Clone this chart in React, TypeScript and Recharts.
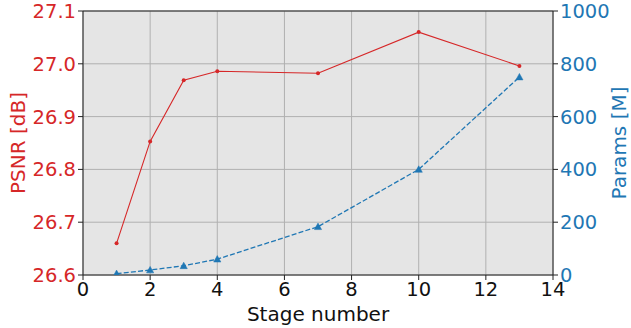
import React from "react";
import {
  ComposedChart,
  Line,
  XAxis,
  YAxis,
  CartesianGrid,
  ReferenceLine,
  Label,
} from "recharts";

const stages = [1, 2, 3, 4, 7, 10, 13];
const psnr = [26.66, 26.853, 26.969, 26.986, 26.982, 27.06, 26.996];
const params = [5, 19, 35, 60, 183, 400, 750];
const xTicks = [0, 2, 4, 6, 8, 10, 12, 14];
const psnrTicks = [26.6, 26.7, 26.8, 26.9, 27.0, 27.1];
const paramTicks = [0, 200, 400, 600, 800, 1000];

const data = stages.map((s, i) => ({ stage: s, psnr: psnr[i], params: params[i] }));

const RED = "#d62728";
const BLUE = "#1f77b4";
const FONT = "DejaVu Sans";

const Triangle = (props: any) => {
  const { cx, cy, index } = props;
  if (cx == null || cy == null) return <g key={`t${index}`} />;
  const s = 3.6;
  return (
    <path
      key={`t${index}`}
      d={`M${cx},${cy - s} L${cx + s},${cy + s * 0.8} L${cx - s},${cy + s * 0.8} Z`}
      fill={BLUE}
      stroke={BLUE}
      strokeWidth={0.5}
    />
  );
};

const RedDot = (props: any) => {
  const { cx, cy, index } = props;
  if (cx == null || cy == null) return <g key={`d${index}`} />;
  return <circle key={`d${index}`} cx={cx} cy={cy} r={2} fill={RED} />;
};

export default function App() {
  return (
    <div style={{ position: "absolute", left: 0, top: 0, width: 631, height: 328, background: "#fff" }}>
      <ComposedChart
        width={631}
        height={328}
        data={data}
        margin={{ top: 11, right: 0, bottom: 0, left: 0 }}
        style={{ fontFamily: FONT }}
      >
        <CartesianGrid
          yAxisId="left"
          fill="#e5e5e5"
          stroke="#b0b0b0"
          strokeWidth={1}
          horizontalValues={psnrTicks}
          verticalValues={xTicks}
        />
        <XAxis
          dataKey="stage"
          type="number"
          domain={[0, 14]}
          ticks={xTicks}
          height={53}
          tickSize={5}
          tickMargin={2}
          stroke="#222"
          tick={{ fill: "#111", fontSize: 19.5, fontFamily: FONT }}
          interval={0}
        >
          <Label
            value="Stage number"
            position="insideBottom"
            offset={7}
            style={{ fill: "#111", fontSize: 20, fontFamily: FONT }}
          />
        </XAxis>
        <YAxis
          yAxisId="left"
          orientation="left"
          type="number"
          domain={[26.6, 27.1]}
          ticks={psnrTicks}
          width={83}
          tickSize={5}
          tickMargin={2}
          stroke="#222"
          tick={{ fill: RED, fontSize: 19.5, fontFamily: FONT }}
          tickFormatter={(v: number) => v.toFixed(1)}
          interval={0}
          allowDataOverflow
        >
          <Label
            value="PSNR [dB]"
            angle={-90}
            position="center"
            dx={-23.5}
            style={{ fill: RED, fontSize: 20, fontFamily: FONT }}
          />
        </YAxis>
        <YAxis
          yAxisId="right"
          orientation="right"
          type="number"
          domain={[0, 1000]}
          ticks={paramTicks}
          width={78}
          tickSize={5}
          tickMargin={2}
          stroke="#222"
          tick={{ fill: BLUE, fontSize: 19.5, fontFamily: FONT }}
          interval={0}
          allowDataOverflow
        >
          <Label
            value="Params [M]"
            angle={-90}
            position="center"
            dx={27}
            style={{ fill: BLUE, fontSize: 20, fontFamily: FONT }}
          />
        </YAxis>
        <ReferenceLine yAxisId="left" y={27.1} stroke="#222" strokeWidth={1} />
        <Line
          yAxisId="left"
          dataKey="psnr"
          stroke={RED}
          strokeWidth={1.1}
          dot={RedDot}
          activeDot={false}
          isAnimationActive={false}
          type="linear"
        />
        <Line
          yAxisId="right"
          dataKey="params"
          stroke={BLUE}
          strokeWidth={1.3}
          strokeDasharray="5 2.2"
          dot={Triangle}
          activeDot={false}
          isAnimationActive={false}
          type="linear"
        />
      </ComposedChart>
    </div>
  );
}
